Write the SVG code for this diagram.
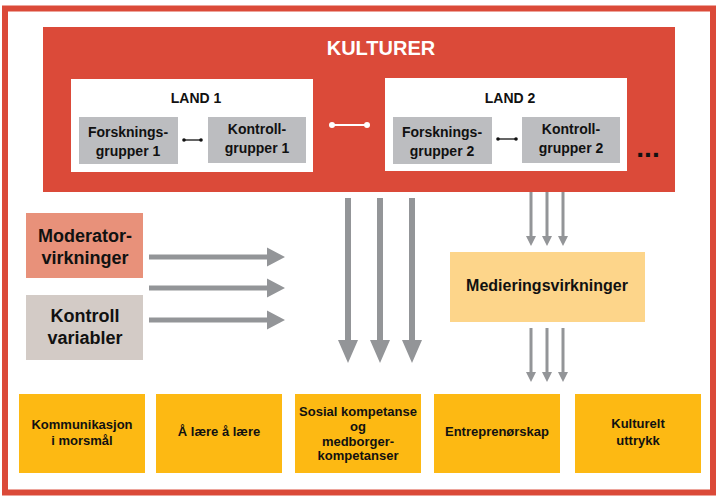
<svg xmlns="http://www.w3.org/2000/svg" width="718" height="496" viewBox="0 0 718 496">
<style>
text{font-family:"Liberation Sans",Arial,sans-serif;font-weight:bold;text-anchor:middle;fill:#111}
.gray{fill:#bcbdc0}
.white{fill:#fff}
.out{fill:#fdb913}
.t13{font-size:13px}
.t14{font-size:14px}
.t18{font-size:18px}
.arr{fill:#939598}
</style>
<rect x="0" y="0" width="718" height="496" fill="#fff"/>
<rect id="frame" x="5" y="8.5" width="708" height="484" fill="none" stroke="#db4a39" stroke-width="6"/>
<g id="kulturer">
<rect x="43" y="27" width="632" height="165" fill="#db4a39"/>
<text x="381" y="55" style="font-size:20px;fill:#fff">KULTURER</text>
<text x="648" y="157" style="font-size:28px">...</text>
</g>
<g id="land1">
<rect class="white" x="71" y="79" width="242" height="93"/>
<text class="t14" x="196" y="103">LAND 1</text>
</g>
<g id="forsk1">
<rect class="gray" x="79" y="117" width="99" height="47"/>
<text class="t14" x="128" y="137">Forsknings-</text>
<text class="t14" x="128" y="156">grupper 1</text>
</g>
<g id="kontr1">
<rect class="gray" x="208" y="117" width="98" height="46"/>
<text class="t14" x="257" y="134">Kontroll-</text>
<text class="t14" x="257" y="153">grupper 1</text>
</g>
<g id="land2">
<rect class="white" x="385" y="78" width="242" height="93"/>
<text class="t14" x="510" y="103">LAND 2</text>
</g>
<g id="forsk2">
<rect class="gray" x="393" y="117" width="99" height="47"/>
<text class="t14" x="442" y="137">Forsknings-</text>
<text class="t14" x="442" y="156">grupper 2</text>
</g>
<g id="kontr2">
<rect class="gray" x="522" y="117" width="98" height="46"/>
<text class="t14" x="571" y="134">Kontroll-</text>
<text class="t14" x="571" y="153">grupper 2</text>
</g>
<g id="moderator">
<rect x="26" y="213" width="117" height="65" fill="#e8917a"/>
<text class="t18" x="85" y="242">Moderator-</text>
<text class="t18" x="85" y="264">virkninger</text>
</g>
<g id="kontrollvar">
<rect x="26" y="295" width="117" height="65" fill="#d3cbc6"/>
<text class="t18" x="85" y="322">Kontroll</text>
<text class="t18" x="85" y="344">variabler</text>
</g>
<g id="mediering">
<rect x="450" y="252" width="195" height="70" fill="#fdd58a"/>
<text x="547" y="291" style="font-size:16px">Medieringsvirkninger</text>
</g>
<g id="out1">
<rect class="out" x="19" y="394" width="126" height="79"/>
<text class="t13" x="82" y="429">Kommunikasjon</text>
<text class="t13" x="82" y="445">i morsmål</text>
</g>
<g id="out2">
<rect class="out" x="156" y="394" width="126" height="79"/>
<text class="t13" x="219" y="436">Å lære å lære</text>
</g>
<g id="out3">
<rect class="out" x="295" y="394" width="126" height="79"/>
<text class="t13" x="358" y="416">Sosial kompetanse</text>
<text class="t13" x="358" y="431">og</text>
<text class="t13" x="358" y="446">medborger-</text>
<text class="t13" x="358" y="460">kompetanser</text>
</g>
<g id="out4">
<rect class="out" x="434" y="394" width="126" height="79"/>
<text class="t13" x="497" y="436">Entreprenørskap</text>
</g>
<g id="out5">
<rect class="out" x="575" y="394" width="126" height="79"/>
<text class="t13" x="638" y="428">Kulturelt</text>
<text class="t13" x="638" y="445">uttrykk</text>
</g>
<g id="connectors">
<line x1="183" y1="140" x2="202" y2="140" stroke="#111" stroke-width="1.3"/>
<circle cx="184" cy="140" r="1.8" fill="#111"/><circle cx="201" cy="140" r="1.8" fill="#111"/>
<line x1="497" y1="139" x2="517" y2="139" stroke="#111" stroke-width="1.3"/>
<circle cx="498" cy="139" r="1.8" fill="#111"/><circle cx="516" cy="139" r="1.8" fill="#111"/>
<line x1="332" y1="125" x2="367" y2="125" stroke="#fff" stroke-width="2"/>
<circle cx="332" cy="125" r="3" fill="#fff"/><circle cx="367" cy="125" r="3" fill="#fff"/>
<g class="arr">
<path d="M149 254.5H267V247.5L285 257L267 266.5V259.5H149Z"/>
<path d="M149 285.5H267V278.5L285 288L267 297.5V290.5H149Z"/>
<path d="M149 317.5H267V310.5L285 320L267 329.5V322.5H149Z"/>
<path d="M345 198H351V340H358L348 363L338 340H345Z"/>
<path d="M377 198H383V340H390L380 363L370 340H377Z"/>
<path d="M409 198H415V340H422L412 363L402 340H409Z"/>
<path d="M529.5 192H532.5V236H536L531 246L526 236H529.5Z"/>
<path d="M545.5 192H548.5V236H552L547 246L542 236H545.5Z"/>
<path d="M561.5 192H564.5V236H568L563 246L558 236H561.5Z"/>
<path d="M529.5 328H532.5V372H536L531 382L526 372H529.5Z"/>
<path d="M545.5 328H548.5V372H552L547 382L542 372H545.5Z"/>
<path d="M561.5 328H564.5V372H568L563 382L558 372H561.5Z"/>
</g>
</g>
</svg>
